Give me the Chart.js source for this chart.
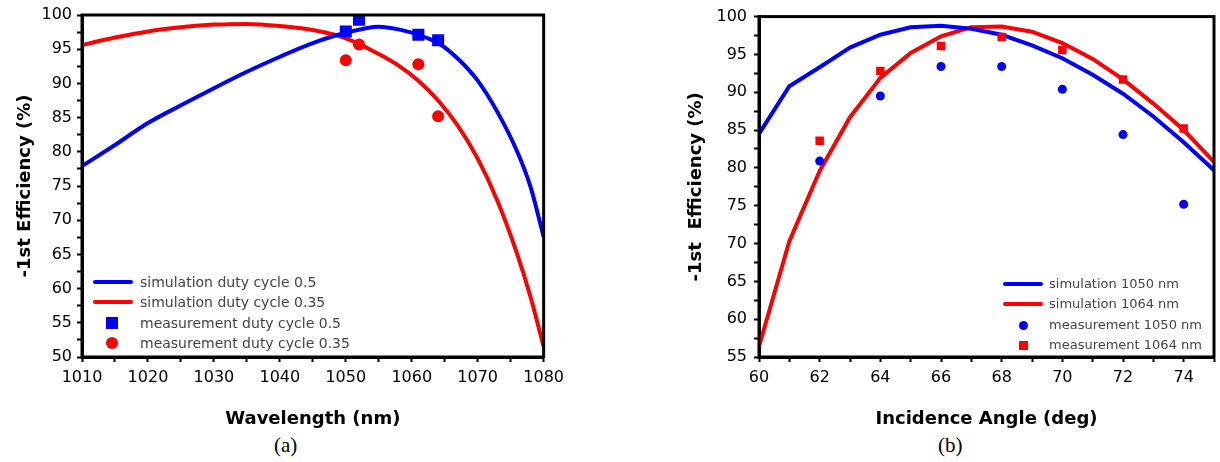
<!DOCTYPE html>
<html>
<head>
<meta charset="utf-8">
<script src="https://cdn.jsdelivr.net/npm/chart.js@4.4.1/dist/chart.umd.min.js"></script>
<style>
  body { margin: 0; background: #fff; width: 1220px; height: 462px; overflow: hidden; position: relative; font-family: "DejaVu Sans", sans-serif; }
  .box { position: absolute; top: 0; height: 430px; }
  #boxA { left: 0; width: 570px; }
  #boxB { left: 660px; width: 560px; }
  .lg { position: absolute; }
  .lgText { position: absolute; color: #444; white-space: nowrap; height: 20px; line-height: 20px; }
  .caption { position: absolute; top: 433px; font-family: "Liberation Serif", "Times New Roman", serif; font-size: 21px; color: #000; }
</style>
</head>
<body>
<div class="box" id="boxA"><canvas id="chartA"></canvas></div>
<div class="box" id="boxB"><canvas id="chartB"></canvas></div>
<div class="caption" style="left:274px">(a)</div>
<div class="caption" style="left:938px">(b)</div>
<script>
// (a) 波長依存
const simWavelengths = [1010, 1015, 1020, 1025, 1030, 1035, 1040, 1045, 1050, 1055, 1058, 1061, 1064, 1067, 1070, 1073, 1076, 1078, 1080];
const simDuty05 = [77.9, 81.0, 84.2, 86.8, 89.3, 91.7, 93.9, 95.9, 97.4, 98.3, 97.9, 97.1, 95.9, 93.6, 90.4, 85.8, 80.0, 74.9, 67.6];
const simDuty035 = [95.6, 96.7, 97.6, 98.2, 98.6, 98.7, 98.4, 97.8, 96.6, 94.3, 92.6, 90.4, 87.5, 83.8, 79.0, 72.8, 65.0, 58.8, 51.5];
const measWavelengths = [1050, 1052, 1061, 1064];
const measDuty05 = [97.6, 99.3, 97.1, 96.3];
const measDuty035 = [93.4, 95.7, 92.8, 85.2];

// (b) 入射角依存
const simAngles = [60, 61, 62, 63, 64, 65, 66, 67, 68, 69, 70, 71, 72, 73, 74, 75];
const sim1050 = [84.5, 90.8, 93.3, 95.9, 97.6, 98.6, 98.8, 98.4, 97.6, 96.2, 94.5, 92.3, 89.8, 86.8, 83.4, 79.7];
const sim1064 = [56.4, 70.3, 79.6, 86.7, 91.9, 95.2, 97.4, 98.6, 98.7, 98.0, 96.5, 94.4, 91.7, 88.5, 85.0, 80.8];
const measAngles = [62, 64, 66, 68, 70, 72, 74];
const meas1050 = [80.9, 89.5, 93.4, 93.4, 90.4, 84.4, 75.2];
const meas1064 = [83.6, 92.8, 96.1, 97.3, 95.6, 91.7, 85.2];

const BLUE = '#0000ff';
const RED = '#ff0000';

const toXY = (xs, ys) => xs.map((x, i) => ({ x: x, y: ys[i] }));

// 枠線（上・右も）
const framePlugin = {
  id: 'frame',
  afterDatasetsDraw(chart) {
    const { ctx, chartArea: a } = chart;
    ctx.save();
    ctx.strokeStyle = '#000';
    ctx.lineWidth = 3;
    ctx.strokeRect(a.left, a.top, a.right - a.left, a.bottom - a.top);
    ctx.restore();
  }
};

function axis(o) {
  return {
    type: 'linear',
    min: o.min,
    max: o.max,
    afterFit: o.fit,
    ticks: {
      stepSize: o.step,
      autoSkip: false,
      maxRotation: 0,
      padding: o.pad,
      color: '#000',
      font: { family: 'DejaVu Sans', size: 16 },
      callback: v => (v % o.labelStep === 0 ? v : '')
    },
    grid: { drawOnChartArea: false, tickLength: 5, tickWidth: 2, tickColor: '#000' },
    border: { color: '#000', width: 3 },
    title: {
      display: true,
      text: o.title,
      color: '#000',
      font: { family: 'DejaVu Sans', size: 18, weight: 'bold' },
      padding: { top: o.titlePad, bottom: 0 }
    }
  };
}

function drawChart(id, datasets, xo, yo, padRight) {
  const ctx = document.getElementById(id).getContext('2d');
  return new Chart(ctx, {
    type: 'scatter',
    data: { datasets: datasets },
    options: {
      responsive: true,
      maintainAspectRatio: false,
      animation: false,
      layout: { padding: { top: 15, right: padRight, bottom: 0, left: 0 } },
      plugins: { legend: { display: false }, tooltip: { enabled: false } },
      scales: { x: axis(xo), y: axis(yo) }
    },
    plugins: [framePlugin]
  });
}

// smooth=true なら単調補間の曲線、falseなら折れ線
function lineSet(label, xs, ys, color, smooth) {
  return {
    label: label, data: toXY(xs, ys), showLine: true, borderColor: color,
    borderWidth: 4, pointRadius: 0, order: 2,
    cubicInterpolationMode: smooth ? 'monotone' : 'default', tension: 0
  };
}
function pointSet(label, xs, ys, color, style, r) {
  return {
    label: label, data: toXY(xs, ys), showLine: false, backgroundColor: color,
    borderWidth: 0, pointStyle: style, pointRadius: r, order: 1
  };
}

const chartA = drawChart('chartA', [
  lineSet('simulation duty cycle 0.5', simWavelengths, simDuty05, BLUE, true),
  lineSet('simulation duty cycle 0.35', simWavelengths, simDuty035, RED, true),
  pointSet('measurement duty cycle 0.5', measWavelengths, measDuty05, BLUE, 'rect', 8.5),
  pointSet('measurement duty cycle 0.35', measWavelengths, measDuty035, RED, 'circle', 6)
], {
  min: 1010, max: 1080, step: 5, labelStep: 10, pad: 6, title: 'Wavelength (nm)', titlePad: 8,
  fit: s => { s.height = 73; }
}, {
  min: 50, max: 100, step: 2.5, labelStep: 5, pad: 5, title: '-1st Efficiency (%)', titlePad: 15,
  fit: s => { s.width = 82; }
}, 26);

const chartB = drawChart('chartB', [
  lineSet('simulation 1050 nm', simAngles, sim1050, BLUE, false),
  lineSet('simulation 1064 nm', simAngles, sim1064, RED, false),
  pointSet('measurement 1050 nm', measAngles, meas1050, BLUE, 'circle', 4.5),
  pointSet('measurement 1064 nm', measAngles, meas1064, RED, 'rect', 6)
], {
  min: 60, max: 75, step: 1, labelStep: 2, pad: 6, title: 'Incidence Angle (deg)', titlePad: 8,
  fit: s => { s.height = 73; }
}, {
  min: 55, max: 100, step: 2.5, labelStep: 5, pad: 7, title: '-1st  Efficiency (%)', titlePad: 26,
  fit: s => { s.width = 99; }
}, 2);

// 凡例（プロット内に配置）
function buildLegend(chart, p) {
  chart.data.datasets.forEach((ds, i) => {
    const cy = p.rows[i];
    const el = document.createElement('div');
    el.className = 'lg';
    if (ds.showLine) {
      el.style.cssText = `left:${p.lineX}px;top:${cy - 2}px;width:${p.lineW}px;height:4px;background:${ds.borderColor};border-radius:2px`;
    } else {
      const d = p.mark[ds.pointStyle];
      el.style.cssText = `left:${p.markX - d / 2}px;top:${cy - d / 2}px;width:${d}px;height:${d}px;background:${ds.backgroundColor}` +
        (ds.pointStyle === 'circle' ? ';border-radius:50%' : '');
    }
    document.body.appendChild(el);
    const t = document.createElement('div');
    t.className = 'lgText';
    t.style.cssText = `left:${p.textX}px;top:${cy - 10}px;font-size:${p.font}px`;
    t.textContent = ds.label;
    document.body.appendChild(t);
  });
}

buildLegend(chartA, { lineX: 93, lineW: 40, markX: 112, textX: 140, rows: [282, 302, 323, 343], font: 14, mark: { rect: 12, circle: 12 } });
buildLegend(chartB, { lineX: 1003, lineW: 40, markX: 1023, textX: 1049, rows: [284, 304, 325, 345], font: 13, mark: { rect: 9, circle: 9 } });
</script>
</body>
</html>
